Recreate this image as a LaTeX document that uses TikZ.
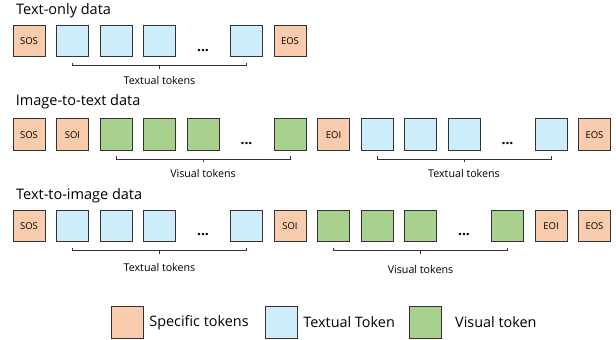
\documentclass[tikz,border=0pt]{standalone}
\usepackage{fontspec}
\setmainfont{Open Sans}
\usepackage{tikz}
\usetikzlibrary{positioning,calc}

\definecolor{spec}{RGB}{248,203,173}
\definecolor{txtc}{RGB}{205,237,250}
\definecolor{visc}{RGB}{169,209,142}

\begin{document}
\begin{tikzpicture}[x=1pt,y=-1pt,
  tok/.style={draw=black!80,line width=1pt,minimum width=32pt,minimum height=31.5pt,inner sep=0pt,font=\fontsize{9.5}{11}\selectfont},
  sp/.style={tok,fill=spec},
  tx/.style={tok,fill=txtc},
  vs/.style={tok,fill=visc},
  dots/.style={font=\fontsize{14}{15}\selectfont\bfseries,inner sep=0pt},
  title/.style={anchor=base west,font=\fontsize{14.5}{17}\selectfont,inner sep=0pt},
  lbl/.style={font=\fontsize{10.7}{13}\selectfont,inner sep=0pt},
  brace/.style={draw=black!80,line width=0.9pt},
  key/.style={font=\fontsize{14.4}{17}\selectfont,inner sep=0pt}]

\useasboundingbox (0,0) rectangle (616,340);

\node[title] (t1) at (16,14) {Text-only data};
\node[sp] (r1s) at (29,41.2) {SOS};
\node[tx] (r1a) at (72.5,41.2) {};
\node[tx] (r1b) at (116,41.2) {};
\node[tx] (r1c) at (159.5,41.2) {};
\node[dots] (r1d) at (203,50.2) {...};
\node[tx] (r1e) at (246.5,41.2) {};
\node[sp] (r1f) at (290,41.2) {EOS};
\draw[brace] ($(r1a.south)+(0,5.5)$) -- ++(0,2.5) -- ($(r1e.south)+(0,8)$) -- ++(0,-2.5);
\draw[brace] ($(r1a.south)!0.5!(r1e.south)+(0,8)$) -- ++(0,3.5);
\node[lbl] (r1l) at ($(r1a.south)!0.5!(r1e.south)+(0,23)$) {Textual tokens};

\node[title] (t2) at (15.7,105.7) {Image-to-text data};
\node[sp] (r2s) at (29,134.7) {SOS};
\node[sp] (r2i) at (72.5,134.7) {SOI};
\node[vs] (r2a) at (116,134.7) {};
\node[vs] (r2b) at (159.5,134.7) {};
\node[vs] (r2c) at (203,134.7) {};
\node[dots] (r2d) at (246.5,143.7) {...};
\node[vs] (r2e) at (290,134.7) {};
\node[sp] (r2o) at (333.5,134.7) {EOI};
\node[tx] (r2f) at (377,134.7) {};
\node[tx] (r2g) at (420.5,134.7) {};
\node[tx] (r2h) at (464,134.7) {};
\node[dots] (r2k) at (507.5,143.7) {...};
\node[tx] (r2m) at (551,134.7) {};
\node[sp] (r2n) at (594.5,134.7) {EOS};
\draw[brace] ($(r2a.south)+(0,5.5)$) -- ++(0,2.5) -- ($(r2e.south)+(0,8)$) -- ++(0,-2.5);
\draw[brace] ($(r2a.south)!0.5!(r2e.south)+(0,8)$) -- ++(0,3.5);
\node[lbl] (r2l) at ($(r2a.south)!0.5!(r2e.south)+(0,23)$) {Visual tokens};
\draw[brace] ($(r2f.south)+(0,5.5)$) -- ++(0,2.5) -- ($(r2m.south)+(0,8)$) -- ++(0,-2.5);
\draw[brace] ($(r2f.south)!0.5!(r2m.south)+(0,8)$) -- ++(0,3.5);
\node[lbl] (r2r) at ($(r2f.south)!0.5!(r2m.south)+(0,23)$) {Textual tokens};

\node[title] (t3) at (16,199.3) {Text-to-image data};
\node[sp] (r3s) at (29,225.9) {SOS};
\node[tx] (r3a) at (72.5,225.9) {};
\node[tx] (r3b) at (116,225.9) {};
\node[tx] (r3c) at (159.5,225.9) {};
\node[dots] (r3d) at (203,234.9) {...};
\node[tx] (r3e) at (246.5,225.9) {};
\node[sp] (r3i) at (290,225.9) {SOI};
\node[vs] (r3f) at (333.5,225.9) {};
\node[vs] (r3g) at (377,225.9) {};
\node[vs] (r3h) at (420.5,225.9) {};
\node[dots] (r3k) at (464,234.9) {...};
\node[vs] (r3m) at (507.5,225.9) {};
\node[sp] (r3o) at (551,225.9) {EOI};
\node[sp] (r3n) at (594.5,225.9) {EOS};
\draw[brace] ($(r3a.south)+(0,5.5)$) -- ++(0,2.5) -- ($(r3e.south)+(0,8)$) -- ++(0,-2.5);
\draw[brace] ($(r3a.south)!0.5!(r3e.south)+(0,8)$) -- ++(0,3.5);
\node[lbl] (r3l) at ($(r3a.south)!0.5!(r3e.south)+(0,25.5)$) {Textual tokens};
\draw[brace] ($(r3f.south)+(0,5.5)$) -- ++(0,2.5) -- ($(r3m.south)+(0,8)$) -- ++(0,-2.5);
\draw[brace] ($(r3f.south)!0.5!(r3m.south)+(0,8)$) -- ++(0,3.5);
\node[lbl] (r3r) at ($(r3f.south)!0.5!(r3m.south)+(0,27.5)$) {Visual tokens};

\node[sp] (k1) at (127.7,322.5) {};
\node[key,right=5pt of k1] (k1t) {Specific tokens};
\node[tx] (k2) at (281.7,322.5) {};
\node[key,right=5pt of k2] (k2t) {Textual Token};
\node[vs] (k3) at (425,322.5) {};
\node[key,right=13.5pt of k3] (k3t) {Visual token};

\end{tikzpicture}
\end{document}
